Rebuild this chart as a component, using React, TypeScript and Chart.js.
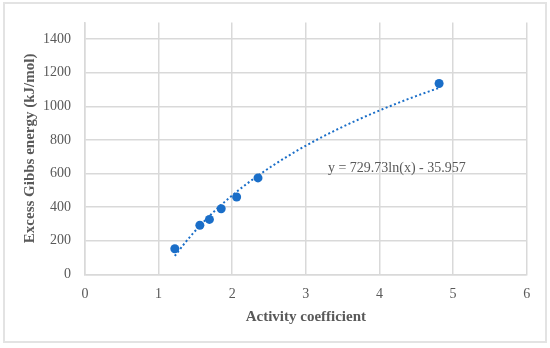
import React, { useEffect, useRef } from "react";
import { Chart, registerables } from "chart.js";

Chart.register(...registerables);

// Data
const activityCoefficient = [1.22, 1.56, 1.69, 1.85, 2.06, 2.35, 4.81];
const excessGibbsEnergy = [152, 292, 327, 390, 460, 574, 1136];

// Logarithmic trendline shown on the chart: y = A ln(x) + B
const TREND_A = 729.73;
const TREND_B = -35.957;
const TREND_LABEL = "y = 729.73ln(x) - 35.957";
const TREND_LABEL_X = 3.3;
const TREND_LABEL_Y = 632;

const X_TICKS = [0, 1, 2, 3, 4, 5, 6];
const Y_TICKS = [0, 200, 400, 600, 800, 1000, 1200, 1400];
const X_TITLE = "Activity coefficient";
const Y_TITLE = "Excess Gibbs energy (kJ/mol)";

const BLUE = "#1a6ec8";
const GRID = "#d9d9d9";
const TEXT = "#595959";
const FONT = "'Liberation Serif', serif";

function trendPoints() {
  const xMin = Math.min(...activityCoefficient);
  const xMax = Math.max(...activityCoefficient);
  const n = 80;
  const pts: { x: number; y: number }[] = [];
  for (let i = 0; i <= n; i++) {
    const x = xMin + ((xMax - xMin) * i) / n;
    pts.push({ x, y: TREND_A * Math.log(x) + TREND_B });
  }
  return pts;
}

const labelPlugin = {
  id: "trendLabel",
  afterDatasetsDraw(chart: any) {
    const { ctx, scales } = chart;
    const px = scales.x.getPixelForValue(TREND_LABEL_X);
    const py = scales.y.getPixelForValue(TREND_LABEL_Y);
    ctx.save();
    ctx.font = `14px ${FONT}`;
    ctx.fillStyle = TEXT;
    ctx.textAlign = "left";
    ctx.textBaseline = "middle";
    ctx.fillText(TREND_LABEL, px, py);
    ctx.restore();
  },
};

export default function App() {
  const ref = useRef<HTMLCanvasElement>(null);

  useEffect(() => {
    if (!ref.current) return;
    const chart = new Chart(ref.current, {
      type: "scatter",
      data: {
        datasets: [
          {
            label: "data",
            data: activityCoefficient.map((x, i) => ({ x, y: excessGibbsEnergy[i] })),
            backgroundColor: BLUE,
            borderColor: BLUE,
            pointRadius: 4.5,
            borderWidth: 0,
          },
          {
            label: "trend",
            type: "line",
            data: trendPoints(),
            borderColor: BLUE,
            borderWidth: 2,
            borderDash: [2, 2.5],
            pointRadius: 0,
            fill: false,
            showLine: true,
            tension: 0,
          } as any,
        ],
      },
      options: {
        animation: false,
        responsive: false,
        maintainAspectRatio: false,
        layout: { padding: { top: 20, right: 23.3, left: 0, bottom: 0 } },
        plugins: {
          legend: { display: false },
          tooltip: { enabled: false },
        },
        scales: {
          x: {
            type: "linear",
            min: 0,
            max: 6,
            afterBuildTicks: (s: any) => {
              s.ticks = X_TICKS.map((v) => ({ value: v }));
            },
            afterFit: (s: any) => {
              s.height = 73.7;
            },
            grid: { color: GRID, lineWidth: 1.5, drawTicks: false },
            border: { color: GRID, width: 1.5 },
            ticks: {
              padding: 12,
              color: TEXT,
              font: { family: FONT, size: 14 },
              maxRotation: 0,
              callback: (v: any) => String(v),
            },
            title: {
              display: true,
              text: X_TITLE,
              color: TEXT,
              font: { family: FONT, size: 15, weight: "bold" },
              padding: { top: 0, bottom: 22.3 },
            },
          },
          y: {
            type: "linear",
            min: 0,
            max: 1500,
            afterBuildTicks: (s: any) => {
              s.ticks = Y_TICKS.map((v) => ({ value: v }));
            },
            afterFit: (s: any) => {
              s.width = 85;
            },
            grid: { color: GRID, lineWidth: 1.5, drawTicks: false },
            border: { color: GRID, width: 1.5 },
            ticks: {
              padding: 14,
              color: TEXT,
              font: { family: FONT, size: 14 },
              callback: (v: any) => String(v),
            },
            title: {
              display: true,
              text: Y_TITLE,
              color: TEXT,
              font: { family: FONT, size: 15, weight: "bold" },
              padding: { top: 21, bottom: 0 },
            },
          },
        },
      },
      plugins: [labelPlugin],
    });
    return () => chart.destroy();
  }, []);

  return (
    <div
      style={{
        position: "fixed",
        left: 0,
        top: 0,
        width: 550,
        height: 348,
        background: "#ffffff",
      }}
    >
      <div
        style={{
          position: "absolute",
          left: 3,
          top: 2,
          width: 544,
          height: 341,
          boxSizing: "border-box",
          border: "2px solid #e3e3e3",
        }}
      />
      <canvas
        ref={ref}
        width={550}
        height={348}
        style={{ position: "absolute", left: 0, top: 0, width: 550, height: 348 }}
      />
    </div>
  );
}
